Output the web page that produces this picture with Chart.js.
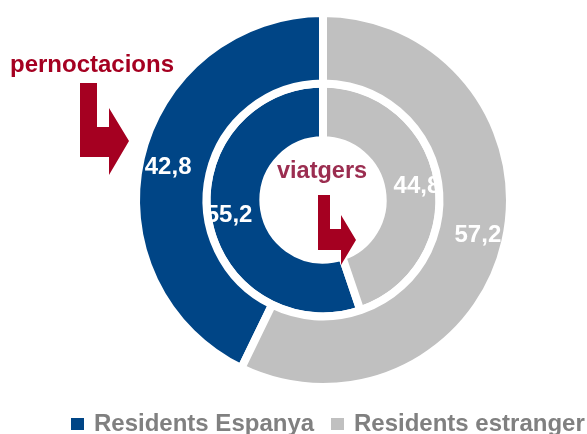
<!DOCTYPE html>
<html>
<head>
<meta charset="utf-8">
<script src="https://cdn.jsdelivr.net/npm/chart.js@4.4.0/dist/chart.umd.min.js"></script>
<style>
  html, body { margin: 0; padding: 0; background: #fff; overflow: hidden; }
  canvas { display: block; }
</style>
</head>
<body>
<canvas id="chart" width="587" height="434"></canvas>
<script>
  const categories = ["Residents Espanya", "Residents estranger"];
  const pernoctacions = [42.8, 57.2];
  const viatgers = [55.2, 44.8];
  const colors = ["#004586", "#c0c0c0"];

  const FONT = '"Liberation Sans", Arial, sans-serif';
  const RED = "#a50021";

  function fmt(v) {
    return v.toFixed(1).replace(".", ",");
  }

  function arrow(ctx, pts) {
    ctx.beginPath();
    pts.forEach(([x, y], i) => (i ? ctx.lineTo(x, y) : ctx.moveTo(x, y)));
    ctx.closePath();
    ctx.fill();
  }

  const overlay = {
    id: "overlay",
    afterDraw(chart) {
      const ctx = chart.ctx;
      ctx.save();

      // values on the arcs, pushed a bit outwards like the original
      ctx.fillStyle = "#fff";
      ctx.font = "bold 24px " + FONT;
      ctx.textAlign = "center";
      ctx.textBaseline = "middle";
      chart.data.datasets.forEach((ds, di) => {
        const meta = chart.getDatasetMeta(di);
        meta.data.forEach((arc, i) => {
          const p = arc.tooltipPosition();
          const dx = p.x < arc.x ? -7 : 7;
          ctx.fillText(fmt(ds.data[i]), p.x + dx, p.y + 1);
        });
      });

      // annotations
      ctx.fillStyle = RED;
      arrow(ctx, [[80, 83], [97, 83], [97, 127], [109, 127], [109, 108], [129, 141],
        [109, 175], [109, 157], [80, 157]]);
      arrow(ctx, [[318, 195], [330, 195], [330, 229], [341, 229], [341, 215], [356, 240],
        [341, 265], [341, 250], [318, 250]]);

      ctx.textAlign = "left";
      ctx.textBaseline = "alphabetic";
      ctx.font = "bold 24px " + FONT;
      ctx.fillText("pernoctacions", 10, 72);
      ctx.fillStyle = "#9b2d50";
      ctx.font = "bold 23.5px " + FONT;
      ctx.fillText("viatgers", 277, 178);

      // legend
      const boxX = [71, 331];
      const textX = [94, 354];
      ctx.font = "bold 24px " + FONT;
      categories.forEach((name, i) => {
        ctx.fillStyle = colors[i];
        ctx.fillRect(boxX[i], 418, 13, 12);
        ctx.fillStyle = "#808080";
        ctx.fillText(name, textX[i], 431);
      });

      ctx.restore();
    }
  };

  new Chart(document.getElementById("chart"), {
    type: "doughnut",
    data: {
      labels: categories,
      datasets: [
        {
          label: "pernoctacions",
          data: pernoctacions,
          backgroundColor: colors,
          borderColor: "#fff",
          borderWidth: 8,
          weight: 72,
          rotation: -pernoctacions[0] * 3.6
        },
        {
          label: "viatgers",
          data: viatgers,
          backgroundColor: colors,
          borderColor: "#fff",
          borderWidth: 8,
          weight: 58,
          rotation: -viatgers[0] * 3.6
        }
      ]
    },
    options: {
      responsive: false,
      devicePixelRatio: 1,
      animation: false,
      cutout: "31.9%",
      layout: {
        padding: { left: 59, right: 0, top: 9, bottom: 43 }
      },
      plugins: {
        legend: { display: false },
        tooltip: { enabled: false }
      }
    },
    plugins: [overlay]
  });
</script>
</body>
</html>
